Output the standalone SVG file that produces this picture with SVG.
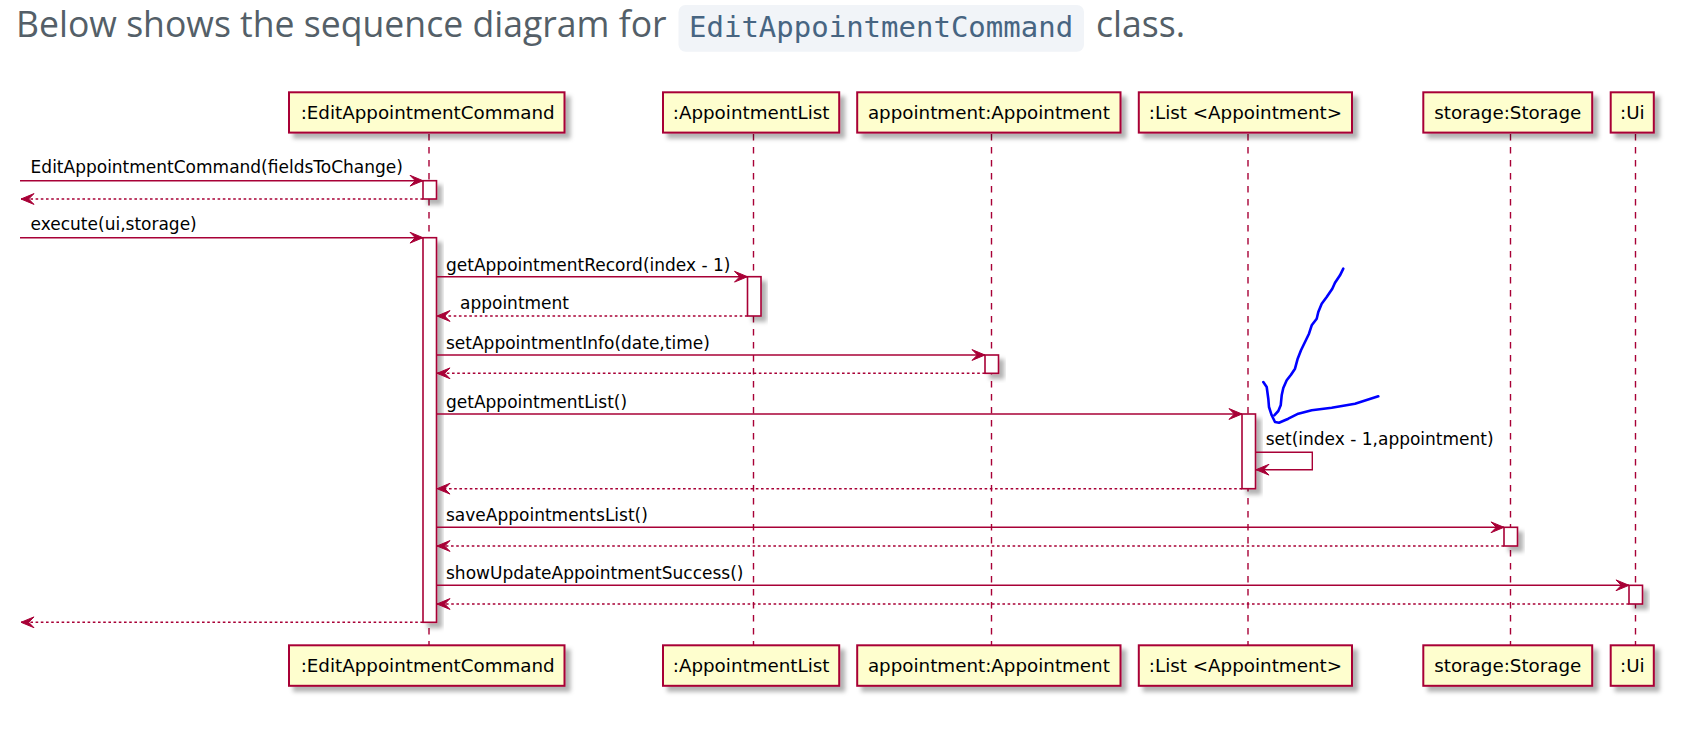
<svg xmlns="http://www.w3.org/2000/svg" width="1696" height="745" viewBox="0 0 1696 745">
<style>
.bg{fill:#ffffff}
.title{font-family:"Open Sans","Noto Sans",sans-serif;font-size:35.6px;fill:#545f68}
.code{font-family:"DejaVu Sans Mono","Liberation Mono",monospace;font-size:29px;fill:#476582}
.codebg{fill:#f1f4f8}
.part{fill:#fefece;stroke:#a80036;stroke-width:2}
.ptext{font-family:"DejaVu Sans",sans-serif;font-size:18.3px;fill:#000000;text-anchor:middle}
.life{stroke:#a80036;stroke-width:1.4;stroke-dasharray:6.5 6.5;fill:none}
.act{fill:#ffffff;stroke:#a80036;stroke-width:1.6}
.msg{stroke:#a80036;stroke-width:1.4;fill:none}
.ret{stroke:#a80036;stroke-width:1.4;fill:none;stroke-dasharray:2.6 2.6}
.mtext{font-family:"DejaVu Sans",sans-serif;font-size:17px;fill:#000000}
.ink{stroke:#0000ff;stroke-width:2.6;fill:none;stroke-linecap:round;stroke-linejoin:round}
</style>
<defs>
<filter id="sh" x="-0.5" y="-0.5" width="2" height="2">
<feGaussianBlur in="SourceAlpha" stdDeviation="2.2"/>
<feOffset dx="4.5" dy="4.5" result="b"/>
<feFlood flood-color="#000000" flood-opacity="0.3"/>
<feComposite in2="b" operator="in"/>
<feMerge><feMergeNode/><feMergeNode in="SourceGraphic"/></feMerge>
</filter>
<marker id="ah" markerUnits="userSpaceOnUse" markerWidth="16" markerHeight="14" viewBox="0 0 16 14" refX="14.5" refY="7" orient="auto">
<path d="M1.5,1.6 L14.5,7 L1.5,12.4 L6.8,7 Z" fill="#a80036" stroke="#a80036" stroke-width="1"/>
</marker>
</defs>
<rect class="bg" x="0" y="0" width="1696" height="745"/>

<g id="heading">
<text class="title" x="16" y="37.3">Below shows the sequence diagram for</text>
<rect class="codebg" x="678.5" y="5" width="405.5" height="46.7" rx="7"/>
<text class="code" x="689" y="37.3">EditAppointmentCommand</text>
<text class="title" x="1096" y="37.3">class.</text>
</g>

<g id="lifelines">
<line class="life" x1="429" y1="134" x2="429" y2="645"/>
<line class="life" x1="753.5" y1="134" x2="753.5" y2="645"/>
<line class="life" x1="991.5" y1="134" x2="991.5" y2="645"/>
<line class="life" x1="1248" y1="134" x2="1248" y2="645"/>
<line class="life" x1="1510.5" y1="134" x2="1510.5" y2="645"/>
<line class="life" x1="1635.5" y1="134" x2="1635.5" y2="645"/>
</g>

<g id="p-editcmd">
<rect class="part" x="289" y="92.3" width="275.5" height="40.3" filter="url(#sh)"/>
<text class="ptext" x="427.7" y="118.5">:EditAppointmentCommand</text>
<rect class="part" x="289" y="645.3" width="275.5" height="40.5" filter="url(#sh)"/>
<text class="ptext" x="427.7" y="671.7">:EditAppointmentCommand</text>
</g>
<g id="p-applist">
<rect class="part" x="663" y="92.3" width="176.2" height="40.3" filter="url(#sh)"/>
<text class="ptext" x="751.1" y="118.5">:AppointmentList</text>
<rect class="part" x="663" y="645.3" width="176.2" height="40.5" filter="url(#sh)"/>
<text class="ptext" x="751.1" y="671.7">:AppointmentList</text>
</g>
<g id="p-appointment">
<rect class="part" x="857.2" y="92.3" width="263.3" height="40.3" filter="url(#sh)"/>
<text class="ptext" x="988.9" y="118.5">appointment:Appointment</text>
<rect class="part" x="857.2" y="645.3" width="263.3" height="40.5" filter="url(#sh)"/>
<text class="ptext" x="988.9" y="671.7">appointment:Appointment</text>
</g>
<g id="p-list">
<rect class="part" x="1138.8" y="92.3" width="213.2" height="40.3" filter="url(#sh)"/>
<text class="ptext" x="1245.4" y="118.5">:List &lt;Appointment&gt;</text>
<rect class="part" x="1138.8" y="645.3" width="213.2" height="40.5" filter="url(#sh)"/>
<text class="ptext" x="1245.4" y="671.7">:List &lt;Appointment&gt;</text>
</g>
<g id="p-storage">
<rect class="part" x="1423.3" y="92.3" width="168.9" height="40.3" filter="url(#sh)"/>
<text class="ptext" x="1507.8" y="118.5">storage:Storage</text>
<rect class="part" x="1423.3" y="645.3" width="168.9" height="40.5" filter="url(#sh)"/>
<text class="ptext" x="1507.8" y="671.7">storage:Storage</text>
</g>
<g id="p-ui">
<rect class="part" x="1610.7" y="92.3" width="43.1" height="40.3" filter="url(#sh)"/>
<text class="ptext" x="1632.3" y="118.5">:Ui</text>
<rect class="part" x="1610.7" y="645.3" width="43.1" height="40.5" filter="url(#sh)"/>
<text class="ptext" x="1632.3" y="671.7">:Ui</text>
</g>

<g id="activations">
<rect class="act" x="423" y="180.7" width="13.5" height="18.3" filter="url(#sh)"/>
<rect class="act" x="423" y="237.7" width="13.5" height="384.6" filter="url(#sh)"/>
<rect class="act" x="747.5" y="276.7" width="13.5" height="39.3" filter="url(#sh)"/>
<rect class="act" x="985" y="355" width="13.5" height="18.3" filter="url(#sh)"/>
<rect class="act" x="1242" y="414" width="13.5" height="74.7" filter="url(#sh)"/>
<rect class="act" x="1504" y="527.3" width="13.5" height="18.7" filter="url(#sh)"/>
<rect class="act" x="1629" y="585.3" width="13.5" height="18.7" filter="url(#sh)"/>
</g>

<g id="connectors">
<line class="msg" x1="20" y1="180.7" x2="423" y2="180.7" marker-end="url(#ah)"/>
<line class="ret" x1="423" y1="199" x2="21" y2="199" marker-end="url(#ah)"/>
<line class="msg" x1="20" y1="237.7" x2="423" y2="237.7" marker-end="url(#ah)"/>
<line class="msg" x1="436.5" y1="276.7" x2="747.5" y2="276.7" marker-end="url(#ah)"/>
<line class="ret" x1="747.5" y1="316" x2="437" y2="316" marker-end="url(#ah)"/>
<line class="msg" x1="436.5" y1="355" x2="985" y2="355" marker-end="url(#ah)"/>
<line class="ret" x1="985" y1="373.3" x2="437" y2="373.3" marker-end="url(#ah)"/>
<line class="msg" x1="436.5" y1="414" x2="1242" y2="414" marker-end="url(#ah)"/>
<path class="msg" d="M1255.5,452.3 L1312.3,452.3 L1312.3,469.7 L1256,469.7" marker-end="url(#ah)"/>
<line class="ret" x1="1242" y1="488.7" x2="437" y2="488.7" marker-end="url(#ah)"/>
<line class="msg" x1="436.5" y1="527.3" x2="1504" y2="527.3" marker-end="url(#ah)"/>
<line class="ret" x1="1504" y1="546" x2="437" y2="546" marker-end="url(#ah)"/>
<line class="msg" x1="436.5" y1="585.3" x2="1629" y2="585.3" marker-end="url(#ah)"/>
<line class="ret" x1="1629" y1="604" x2="437" y2="604" marker-end="url(#ah)"/>
<line class="ret" x1="423" y1="622.3" x2="21" y2="622.3" marker-end="url(#ah)"/>
</g>

<g id="labels">
<text class="mtext" x="30.6" y="173.3">EditAppointmentCommand(fieldsToChange)</text>
<text class="mtext" x="30.6" y="230.3">execute(ui,storage)</text>
<text class="mtext" x="446" y="270.5">getAppointmentRecord(index - 1)</text>
<text class="mtext" x="460" y="308.5">appointment</text>
<text class="mtext" x="446" y="348.5">setAppointmentInfo(date,time)</text>
<text class="mtext" x="446" y="407.5">getAppointmentList()</text>
<text class="mtext" x="1265.7" y="444.5">set(index - 1,appointment)</text>
<text class="mtext" x="446" y="520.5">saveAppointmentsList()</text>
<text class="mtext" x="446" y="578.5">showUpdateAppointmentSuccess()</text>
</g>

<g id="annotation">
<path class="ink" d="M1343.3,268.7 L1340,275.3 L1335,282.7 L1332.3,288.7 L1326.7,297 L1321.7,303.7 L1318.3,312 L1316.7,318.7 L1311.7,325.3 L1309,333.7 L1305,342 L1301,350.3 L1297.7,358.7 L1295,368.7 L1291,374.7 L1286.7,380.3 L1283.3,388 L1281.7,395.3 L1280.7,405.3 L1278.3,411 L1274.3,415.3"/>
<path class="ink" d="M1263.3,382 L1266.7,387 L1268.3,398.7 L1269,407 L1271.7,415.3 L1275,422 L1279,422.7 L1288.3,418.7 L1298.3,413.7 L1311.7,410.3 L1331.7,407.7 L1355,403.7 L1378.3,396.3"/>
</g>
</svg>
